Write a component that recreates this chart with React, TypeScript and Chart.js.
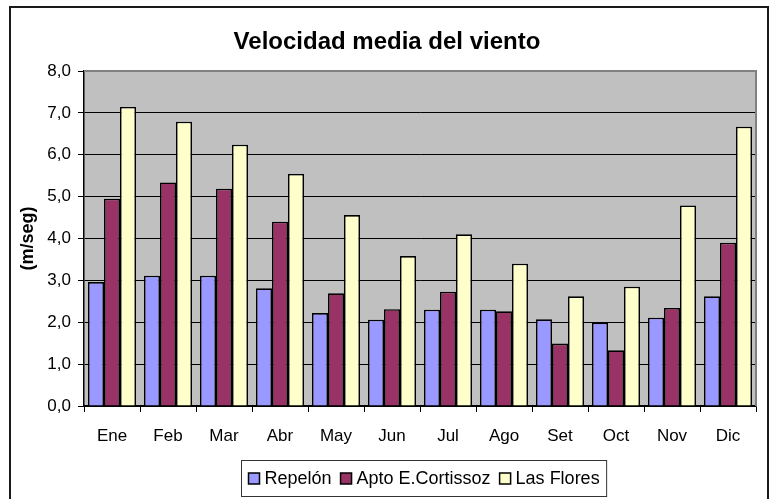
import React, { useEffect, useRef } from "react";
import { Chart, registerables } from "chart.js";

Chart.register(...registerables);

const categories = ["Ene", "Feb", "Mar", "Abr", "May", "Jun", "Jul", "Ago", "Set", "Oct", "Nov", "Dic"];
const repelon = [2.96, 3.11, 3.11, 2.81, 2.22, 2.06, 2.3, 2.3, 2.07, 1.99, 2.11, 2.62];
const aptoCortissoz = [4.95, 5.34, 5.19, 4.4, 2.69, 2.31, 2.73, 2.26, 1.49, 1.33, 2.34, 3.9];
const lasFlores = [7.14, 6.79, 6.24, 5.54, 4.56, 3.58, 4.1, 3.4, 2.62, 2.85, 4.79, 6.67];
const seriesNames = ["Repelón", "Apto E.Cortissoz", "Las Flores"];
const seriesColors = ["#9999FF", "#993366", "#FFFFCC"];
const titleText = "Velocidad media del viento";
const yAxisTitle = "(m/seg)";

const FONT = "'Liberation Sans', Arial, sans-serif";

const decorPlugin = {
  id: "decor",
  beforeDraw(chart: any) {
    const { ctx, chartArea } = chart;
    ctx.save();
    ctx.fillStyle = "#FFFFFF";
    ctx.fillRect(0, 0, chart.width, chart.height);
    ctx.fillStyle = "#C0C0C0";
    ctx.fillRect(chartArea.left, chartArea.top, chartArea.right - chartArea.left, chartArea.bottom - chartArea.top);
    ctx.restore();
  },
  beforeDatasetsDraw(chart: any) {
    const { ctx, chartArea } = chart;
    ctx.save();
    ctx.strokeStyle = "#808080";
    ctx.lineWidth = 2;
    ctx.beginPath();
    ctx.moveTo(chartArea.left, chartArea.top);
    ctx.lineTo(chartArea.right, chartArea.top);
    ctx.lineTo(chartArea.right, chartArea.bottom);
    ctx.stroke();
    ctx.restore();
  },
  afterDraw(chart: any) {
    const { ctx, chartArea } = chart;
    ctx.save();
    // outer border
    ctx.strokeStyle = "#1a1a1a";
    ctx.lineWidth = 2;
    ctx.strokeRect(10, 7, 758, 510);
    // title
    ctx.fillStyle = "#000";
    ctx.font = `bold 24px ${FONT}`;
    ctx.textAlign = "center";
    ctx.textBaseline = "middle";
    ctx.fillText(titleText, 387, 42);
    // y axis title
    ctx.save();
    ctx.translate(28, (chartArea.top + chartArea.bottom) / 2);
    ctx.rotate(-Math.PI / 2);
    ctx.font = `bold 18px ${FONT}`;
    ctx.fillText(yAxisTitle, 0, 0);
    ctx.restore();
    // legend
    ctx.font = `18px ${FONT}`;
    const sq = 11;
    const gapSqText = 5;
    const gapItems = 9;
    const widths = seriesNames.map((n) => ctx.measureText(n).width);
    const total = widths.reduce((a, w) => a + sq + gapSqText + w, 0) + gapItems * (seriesNames.length - 1);
    const padX = 7;
    const boxW = total + padX * 2;
    const cx = (chartArea.left + chartArea.right) / 2 + 4;
    const boxL = Math.round(cx - boxW / 2) + 0.5;
    const boxT = 460.5;
    const boxH = 36;
    ctx.strokeStyle = "#333";
    ctx.lineWidth = 1;
    ctx.fillStyle = "#fff";
    ctx.fillRect(boxL, boxT, boxW, boxH);
    ctx.strokeRect(boxL, boxT, boxW, boxH);
    let x = boxL + padX;
    const cy = boxT + boxH / 2;
    ctx.textAlign = "left";
    seriesNames.forEach((n, i) => {
      ctx.fillStyle = seriesColors[i];
      ctx.fillRect(x, cy - sq / 2, sq, sq);
      ctx.strokeStyle = "#000";
      ctx.lineWidth = 1.5;
      ctx.strokeRect(x, cy - sq / 2, sq, sq);
      ctx.fillStyle = "#000";
      ctx.fillText(n, x + sq + gapSqText, cy + 1);
      x += sq + gapSqText + widths[i] + gapItems;
    });
    ctx.restore();
  },
};

export default function App() {
  const ref = useRef<HTMLCanvasElement | null>(null);
  useEffect(() => {
    if (!ref.current) return;
    const datasets = [repelon, aptoCortissoz, lasFlores].map((d, i) => ({
      label: seriesNames[i],
      data: d,
      backgroundColor: seriesColors[i],
      borderColor: "#000",
      borderWidth: 1.6,
      categoryPercentage: 0.857,
      barPercentage: 1.0,
    }));
    const chart = new Chart(ref.current, {
      type: "bar",
      data: { labels: categories, datasets },
      options: {
        animation: false,
        responsive: false,
        maintainAspectRatio: false,
        layout: { padding: { left: 10, right: 14, top: 71, bottom: 53 } },
        plugins: {
          legend: { display: false },
          title: { display: false },
          tooltip: { enabled: false },
        },
        scales: {
          x: {
            afterFit: (s: any) => {
              s.height = 40;
            },
            grid: {
              offset: true,
              drawOnChartArea: false,
              drawTicks: true,
              tickLength: 6,
              color: "#000",
            },
            border: { display: true, color: "#000", width: 1.5 },
            ticks: {
              color: "#000",
              font: { family: FONT, size: 17 },
              padding: 14,
            },
          },
          y: {
            min: 0,
            max: 8,
            afterFit: (s: any) => {
              s.width = 74;
            },
            ticks: {
              stepSize: 1,
              color: "#000",
              font: { family: FONT, size: 17 },
              padding: 7,
              callback: (v: any) => Number(v).toFixed(1).replace(".", ","),
            },
            grid: {
              color: (c: any) => (c.tick && c.tick.value === 8 ? "rgba(0,0,0,0)" : "#000"),
              tickColor: "#000",
              tickLength: 6,
              lineWidth: 1,
            },
            border: { display: true, color: "#000", width: 1.5 },
          },
        },
      },
      plugins: [decorPlugin],
    });
    return () => chart.destroy();
  }, []);
  return (
    <div style={{ position: "fixed", left: 0, top: 0, width: 770, height: 499 }}>
      <canvas ref={ref} width={770} height={499} style={{ width: 770, height: 499 }} />
    </div>
  );
}
